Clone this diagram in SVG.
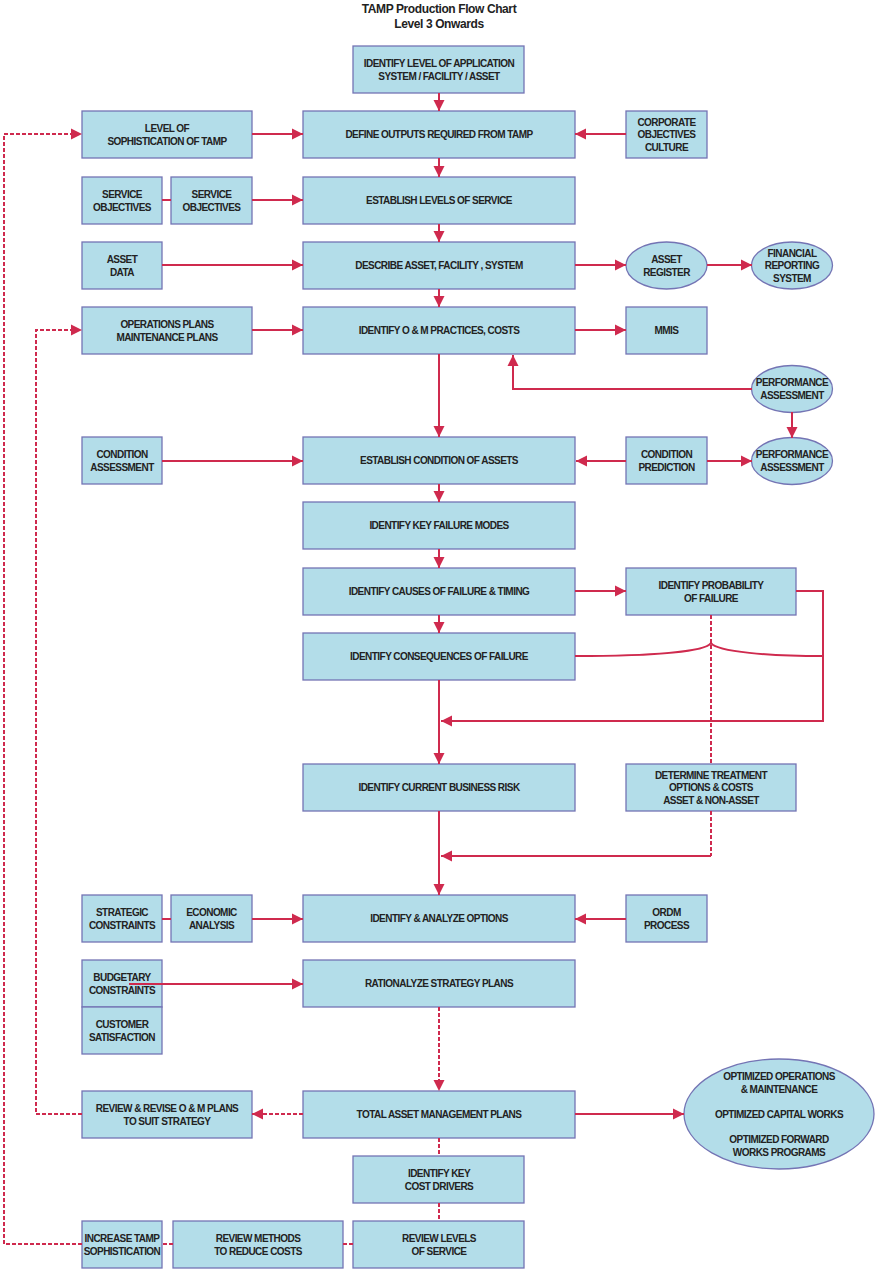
<svg xmlns="http://www.w3.org/2000/svg" width="875" height="1270" viewBox="0 0 875 1270">
<defs>
<style>
.b{fill:#b3dde9;stroke:#7474b4;stroke-width:1.3}
.t{font-family:"Liberation Sans",Arial,sans-serif;font-weight:bold;font-size:10px;fill:#222;text-anchor:middle;letter-spacing:-0.55px}
.h{font-family:"Liberation Sans",Arial,sans-serif;font-weight:bold;font-size:12px;fill:#222;text-anchor:middle;letter-spacing:-0.4px}
.c{fill:none;stroke:#cf2a4e;stroke-width:2}
.d{fill:none;stroke:#cf2a4e;stroke-width:2;stroke-dasharray:4 2}
.a{marker-end:url(#ah)}
</style>
<marker id="ah" markerUnits="userSpaceOnUse" markerWidth="12" markerHeight="12" refX="11" refY="5.5" orient="auto" viewBox="0 0 12 11">
<path d="M0,0 L11,5.5 L0,11 z" fill="#cf2a4e"/>
</marker>
</defs>
<rect width="875" height="1270" fill="#fff"/>
<g id="title">
<text class="h" x="439" y="13">TAMP Production Flow Chart</text>
<text class="h" x="439" y="28">Level 3 Onwards</text>
</g>
<g id="n_identify_level"><rect class="b" x="353" y="46" width="171" height="47"/><text class="t" x="439" y="66.7">IDENTIFY LEVEL OF APPLICATION</text><text class="t" x="439" y="79.7">SYSTEM / FACILITY / ASSET</text></g>
<g id="n_level_soph"><rect class="b" x="82" y="111" width="170" height="47"/><text class="t" x="167" y="131.7">LEVEL OF</text><text class="t" x="167" y="144.7">SOPHISTICATION OF TAMP</text></g>
<g id="n_define_outputs"><rect class="b" x="303" y="111" width="272" height="47"/><text class="t" x="439" y="138.2">DEFINE OUTPUTS REQUIRED FROM TAMP</text></g>
<g id="n_corporate"><rect class="b" x="626" y="111" width="81" height="47"/><text class="t" x="666.5" y="125.7">CORPORATE</text><text class="t" x="666.5" y="138.2">OBJECTIVES</text><text class="t" x="666.5" y="150.7">CULTURE</text></g>
<g id="n_service_obj1"><rect class="b" x="82" y="177" width="80" height="47"/><text class="t" x="122" y="197.7">SERVICE</text><text class="t" x="122" y="210.7">OBJECTIVES</text></g>
<g id="n_service_obj2"><rect class="b" x="171" y="177" width="81" height="47"/><text class="t" x="211.5" y="197.7">SERVICE</text><text class="t" x="211.5" y="210.7">OBJECTIVES</text></g>
<g id="n_establish_los"><rect class="b" x="303" y="177" width="272" height="47"/><text class="t" x="439" y="204.2">ESTABLISH LEVELS OF SERVICE</text></g>
<g id="n_asset_data"><rect class="b" x="82" y="242" width="80" height="47"/><text class="t" x="122" y="262.7">ASSET</text><text class="t" x="122" y="275.7">DATA</text></g>
<g id="n_describe"><rect class="b" x="303" y="242" width="272" height="47"/><text class="t" x="439" y="269.2">DESCRIBE ASSET, FACILITY , SYSTEM</text></g>
<g id="n_asset_register"><ellipse class="b" cx="666.5" cy="265.5" rx="40.5" ry="23.5"/><text class="t" x="666.5" y="262.7">ASSET</text><text class="t" x="666.5" y="275.7">REGISTER</text></g>
<g id="n_financial"><ellipse class="b" cx="792" cy="265.5" rx="40.5" ry="23.5"/><text class="t" x="792" y="256.7">FINANCIAL</text><text class="t" x="792" y="269.2">REPORTING</text><text class="t" x="792" y="281.7">SYSTEM</text></g>
<g id="n_ops_plans"><rect class="b" x="82" y="307" width="170" height="47"/><text class="t" x="167" y="327.7">OPERATIONS PLANS</text><text class="t" x="167" y="340.7">MAINTENANCE PLANS</text></g>
<g id="n_om_practices"><rect class="b" x="303" y="307" width="272" height="47"/><text class="t" x="439" y="334.2">IDENTIFY O &amp; M PRACTICES, COSTS</text></g>
<g id="n_mmis"><rect class="b" x="626" y="307" width="81" height="47"/><text class="t" x="666.5" y="334.2">MMIS</text></g>
<g id="n_perf1"><ellipse class="b" cx="792" cy="389" rx="40.5" ry="23.5"/><text class="t" x="792" y="386.2">PERFORMANCE</text><text class="t" x="792" y="399.2">ASSESSMENT</text></g>
<g id="n_cond_assess"><rect class="b" x="82" y="437" width="80" height="47"/><text class="t" x="122" y="457.7">CONDITION</text><text class="t" x="122" y="470.7">ASSESSMENT</text></g>
<g id="n_establish_cond"><rect class="b" x="303" y="437" width="272" height="47"/><text class="t" x="439" y="464.2">ESTABLISH CONDITION OF ASSETS</text></g>
<g id="n_cond_pred"><rect class="b" x="626" y="437" width="81" height="47"/><text class="t" x="666.5" y="457.7">CONDITION</text><text class="t" x="666.5" y="470.7">PREDICTION</text></g>
<g id="n_perf2"><ellipse class="b" cx="792" cy="461" rx="40.5" ry="23.5"/><text class="t" x="792" y="458.2">PERFORMANCE</text><text class="t" x="792" y="471.2">ASSESSMENT</text></g>
<g id="n_key_failure"><rect class="b" x="303" y="502" width="272" height="47"/><text class="t" x="439" y="529.2">IDENTIFY KEY FAILURE MODES</text></g>
<g id="n_causes"><rect class="b" x="303" y="568" width="272" height="47"/><text class="t" x="439" y="595.2">IDENTIFY CAUSES OF FAILURE &amp; TIMING</text></g>
<g id="n_probability"><rect class="b" x="626" y="568" width="170" height="47"/><text class="t" x="711" y="588.7">IDENTIFY PROBABILITY</text><text class="t" x="711" y="601.7">OF FAILURE</text></g>
<g id="n_consequences"><rect class="b" x="303" y="633" width="272" height="47"/><text class="t" x="439" y="660.2">IDENTIFY CONSEQUENCES OF FAILURE</text></g>
<g id="n_business_risk"><rect class="b" x="303" y="764" width="272" height="47"/><text class="t" x="439" y="791.2">IDENTIFY CURRENT BUSINESS RISK</text></g>
<g id="n_treatment"><rect class="b" x="626" y="764" width="170" height="47"/><text class="t" x="711" y="778.7">DETERMINE TREATMENT</text><text class="t" x="711" y="791.2">OPTIONS &amp; COSTS</text><text class="t" x="711" y="803.7">ASSET &amp; NON-ASSET</text></g>
<g id="n_strategic"><rect class="b" x="82" y="895" width="80" height="47"/><text class="t" x="122" y="915.7">STRATEGIC</text><text class="t" x="122" y="928.7">CONSTRAINTS</text></g>
<g id="n_economic"><rect class="b" x="171" y="895" width="81" height="47"/><text class="t" x="211.5" y="915.7">ECONOMIC</text><text class="t" x="211.5" y="928.7">ANALYSIS</text></g>
<g id="n_options"><rect class="b" x="303" y="895" width="272" height="47"/><text class="t" x="439" y="922.2">IDENTIFY &amp; ANALYZE OPTIONS</text></g>
<g id="n_ordm"><rect class="b" x="626" y="895" width="81" height="47"/><text class="t" x="666.5" y="915.7">ORDM</text><text class="t" x="666.5" y="928.7">PROCESS</text></g>
<g id="n_budgetary"><rect class="b" x="82" y="960" width="80" height="47"/><text class="t" x="122" y="980.7">BUDGETARY</text><text class="t" x="122" y="993.7">CONSTRAINTS</text></g>
<g id="n_customer"><rect class="b" x="82" y="1007" width="80" height="47"/><text class="t" x="122" y="1027.7">CUSTOMER</text><text class="t" x="122" y="1040.7">SATISFACTION</text></g>
<g id="n_rationalize"><rect class="b" x="303" y="960" width="272" height="47"/><text class="t" x="439" y="987.2">RATIONALYZE STRATEGY PLANS</text></g>
<g id="n_review_revise"><rect class="b" x="82" y="1091" width="170" height="47"/><text class="t" x="167" y="1111.7">REVIEW &amp; REVISE O &amp; M PLANS</text><text class="t" x="167" y="1124.7">TO SUIT STRATEGY</text></g>
<g id="n_total"><rect class="b" x="303" y="1091" width="272" height="47"/><text class="t" x="439" y="1118.2">TOTAL ASSET MANAGEMENT PLANS</text></g>
<g id="n_optimized"><ellipse class="b" cx="779" cy="1114" rx="95" ry="55"/><text class="t" x="779" y="1079.7">OPTIMIZED OPERATIONS</text><text class="t" x="779" y="1092.7">&amp; MAINTENANCE</text><text class="t" x="779" y="1117.7">OPTIMIZED CAPITAL WORKS</text><text class="t" x="779" y="1142.7">OPTIMIZED FORWARD</text><text class="t" x="779" y="1155.7">WORKS PROGRAMS</text></g>
<g id="n_cost_drivers"><rect class="b" x="353" y="1156" width="171" height="47"/><text class="t" x="439" y="1176.7">IDENTIFY KEY</text><text class="t" x="439" y="1189.7">COST DRIVERS</text></g>
<g id="n_increase"><rect class="b" x="82" y="1221" width="80" height="47"/><text class="t" x="122" y="1241.7">INCREASE TAMP</text><text class="t" x="122" y="1254.7">SOPHISTICATION</text></g>
<g id="n_review_methods"><rect class="b" x="173" y="1221" width="170" height="47"/><text class="t" x="258" y="1241.7">REVIEW METHODS</text><text class="t" x="258" y="1254.7">TO REDUCE COSTS</text></g>
<g id="n_review_levels"><rect class="b" x="353" y="1221" width="171" height="47"/><text class="t" x="439" y="1241.7">REVIEW LEVELS</text><text class="t" x="439" y="1254.7">OF SERVICE</text></g>
<g id="connectors">
<path class="c a" d="M439,93 V111"/>
<path class="c a" d="M252,134 H303"/>
<path class="c a" d="M626,134 H575"/>
<path class="c a" d="M439,158 V177"/>
<path class="c" d="M162,200 H171"/>
<path class="c a" d="M252,200 H303"/>
<path class="c a" d="M439,224 V242"/>
<path class="c a" d="M162,265 H303"/>
<path class="c a" d="M575,265 H626"/>
<path class="c a" d="M707,265 H752"/>
<path class="c a" d="M439,289 V307"/>
<path class="c a" d="M252,330 H303"/>
<path class="c a" d="M575,330 H626"/>
<path class="c a" d="M439,354 V437"/>
<path class="c a" d="M752,389 H513 V355"/>
<path class="c a" d="M792,412 V438"/>
<path class="c a" d="M162,461 H303"/>
<path class="c a" d="M626,461 H576"/>
<path class="c a" d="M707,461 H752"/>
<path class="c a" d="M439,484 V502"/>
<path class="c a" d="M439,549 V568"/>
<path class="c a" d="M439,615 V633"/>
<path class="c a" d="M575,591 H626"/>
<path class="c a" d="M796,591 H823 V721 H441"/>
<path class="c" d="M575,656 C650,656 705,652 711,643 C717,652 770,656 823,656"/>
<path class="d" d="M711,615 V764"/>
<path class="c a" d="M439,680 V764"/>
<path class="d" d="M711,811 V856"/>
<path class="c a" d="M711,856 H441"/>
<path class="c a" d="M439,811 V895"/>
<path class="c" d="M162,919 H171"/>
<path class="c a" d="M252,919 H303"/>
<path class="c a" d="M626,919 H575"/>
<path class="c a" d="M129,984 H303"/>
<path class="d a" d="M439,1007 V1091"/>
<path class="d a" d="M303,1114 H252"/>
<path class="c a" d="M575,1114 H684"/>
<path class="d a" d="M82,1114 H36 V330 H82"/>
<path class="d" d="M439,1138 V1156"/>
<path class="d" d="M439,1203 V1221"/>
<path class="d" d="M353,1244 H343"/>
<path class="d" d="M173,1244 H162"/>
<path class="d a" d="M82,1244 H4 V134 H82"/>
</g>
</svg>
